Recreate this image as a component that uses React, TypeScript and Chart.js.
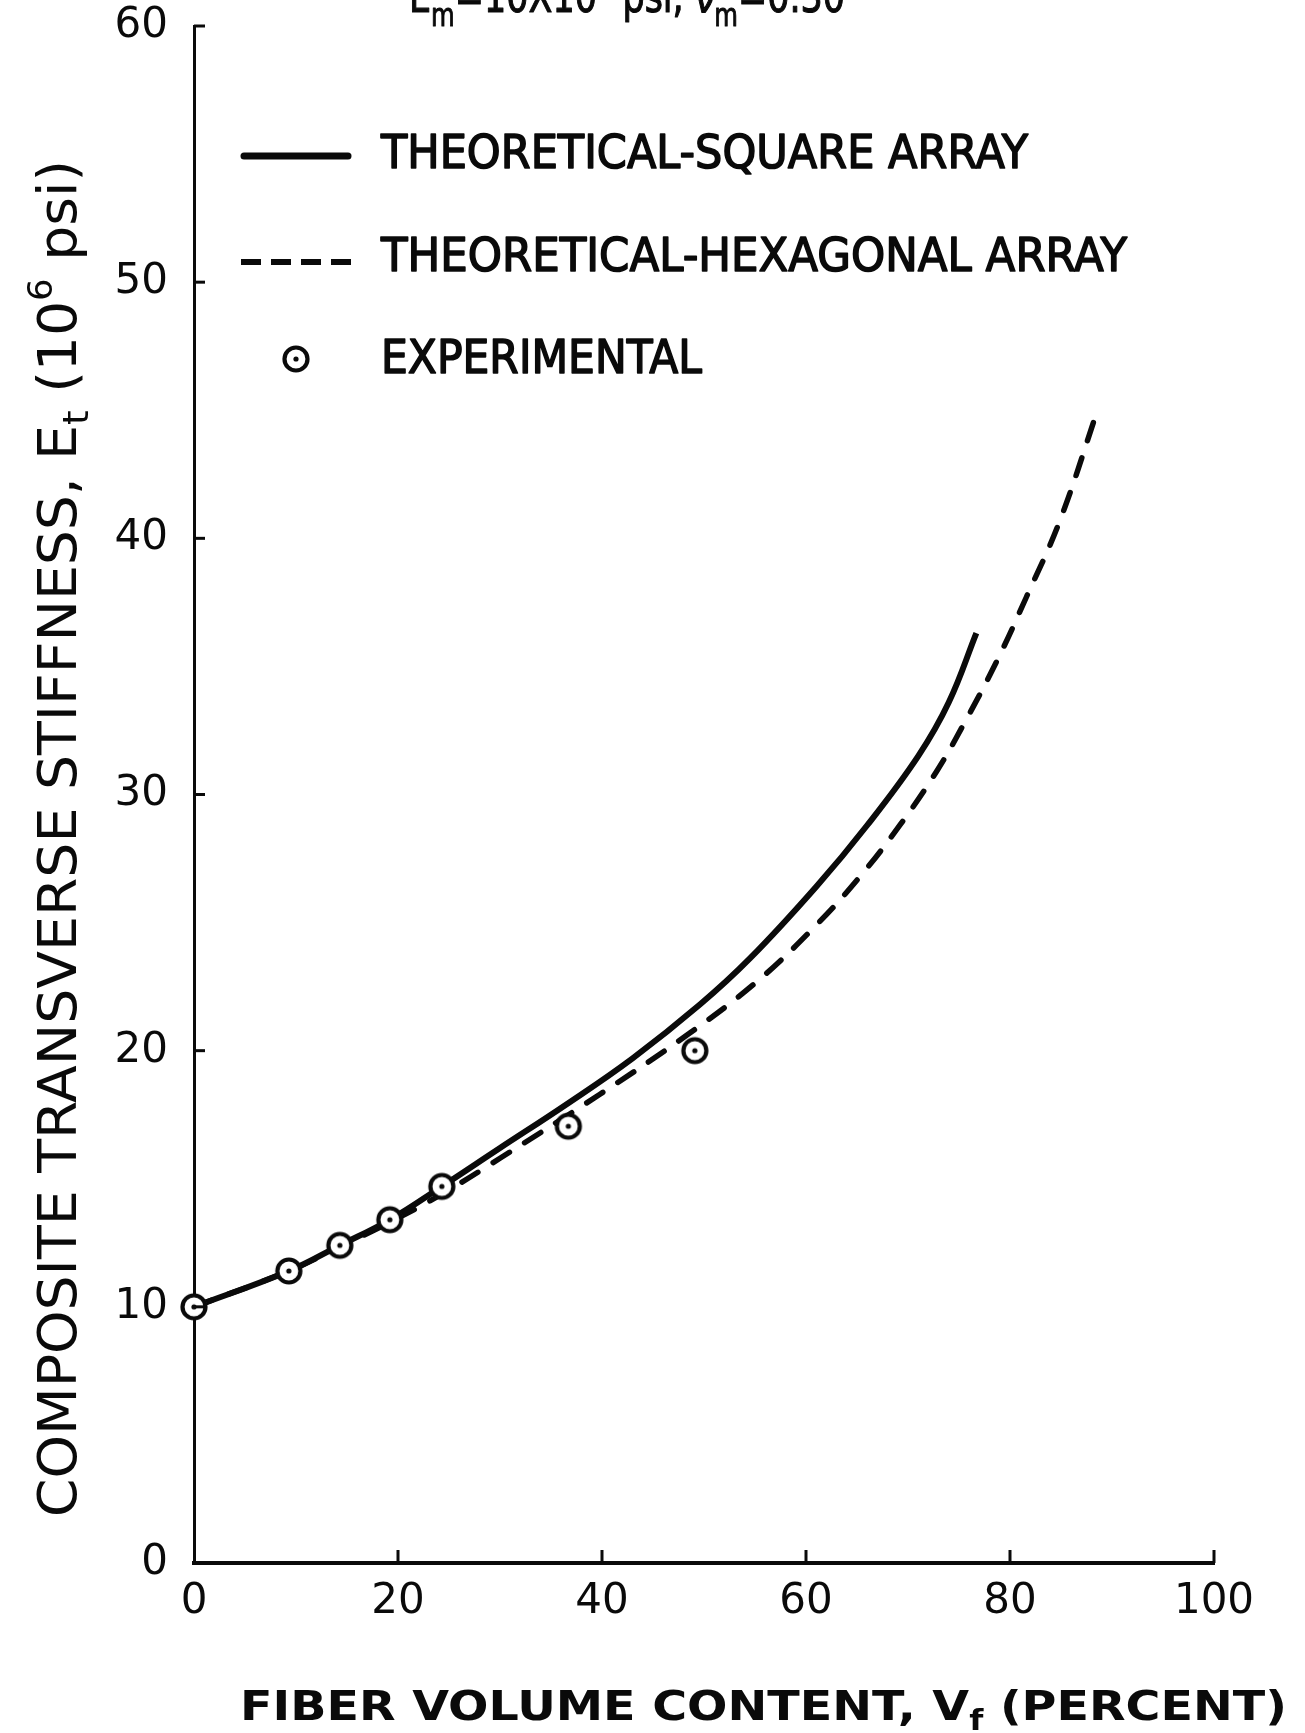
import React, { useEffect, useRef } from "react";
import { Chart, registerables } from "chart.js";

Chart.register(...registerables);

// ---- Data ----
const squareVf = [0, 9.3, 14.3, 19.2, 24.3, 30, 36.5, 43, 49.6, 54.5, 61, 66, 71, 74, 76.7];
const squareE = [10.0, 11.4, 12.4, 13.4, 14.7, 16.2, 17.9, 19.7, 21.8, 23.6, 26.4, 28.8, 31.5, 33.6, 36.3];

const hexVf = [0, 9.3, 14.3, 19.2, 24.3, 30, 39.8, 48.3, 55.2, 61, 65.3, 69.2, 72.8, 75.4, 78.7, 81.6, 84.9, 88.5];
const hexE = [10.0, 11.4, 12.35, 13.3, 14.4, 15.8, 18.3, 20.6, 22.7, 24.9, 26.8, 28.8, 30.9, 32.7, 35.2, 37.7, 40.7, 44.9];

const expVf = [0, 9.3, 14.3, 19.2, 24.3, 36.7, 49.1];
const expE = [10.0, 11.4, 12.4, 13.4, 14.7, 17.05, 20.0];

const xTickValues = [0, 20, 40, 60, 80, 100];
const yTickValues = [0, 10, 20, 30, 40, 50, 60];

const seriesNames = [
  "THEORETICAL-SQUARE ARRAY",
  "THEORETICAL-HEXAGONAL ARRAY",
  "EXPERIMENTAL",
];

const FAMILY = "'DejaVu Sans', sans-serif";
const INK = "#0a0a0a";

type Run = { t: string; size: number; dy?: number; bold?: boolean; stroke?: number };

function drawRuns(ctx: CanvasRenderingContext2D, runs: Run[], x: number, y: number, width: number) {
  ctx.save();
  ctx.textAlign = "left";
  ctx.textBaseline = "alphabetic";
  ctx.fillStyle = INK;
  ctx.strokeStyle = INK;
  ctx.lineJoin = "round";
  let total = 0;
  const widths = runs.map((r) => {
    ctx.font = `${r.bold ? "bold " : ""}${r.size}px ${FAMILY}`;
    const w = ctx.measureText(r.t).width;
    total += w;
    return w;
  });
  ctx.translate(x, y);
  ctx.scale(width / total, 1);
  let cx = 0;
  runs.forEach((r, i) => {
    ctx.font = `${r.bold ? "bold " : ""}${r.size}px ${FAMILY}`;
    ctx.fillText(r.t, cx, r.dy || 0);
    if (r.stroke) {
      ctx.lineWidth = r.stroke;
      ctx.strokeText(r.t, cx, r.dy || 0);
    }
    cx += widths[i];
  });
  ctx.restore();
}

function makeMarker(): HTMLCanvasElement {
  const c = document.createElement("canvas");
  c.width = 34;
  c.height = 34;
  const g = c.getContext("2d")!;
  g.beginPath();
  g.arc(17, 17, 13, 0, Math.PI * 2);
  g.fillStyle = "#ffffff";
  g.fill();
  g.lineWidth = 4.2;
  g.strokeStyle = INK;
  g.beginPath();
  g.arc(17, 17, 11.5, 0, Math.PI * 2);
  g.stroke();
  g.beginPath();
  g.arc(17, 17, 2.6, 0, Math.PI * 2);
  g.fillStyle = INK;
  g.fill();
  return c;
}

export default function App() {
  const canvasRef = useRef<HTMLCanvasElement | null>(null);

  useEffect(() => {
    const canvas = canvasRef.current;
    if (!canvas) return;
    const marker = makeMarker();

    const decorPlugin = {
      id: "decor",
      afterDraw(chart: any) {
        const ctx: CanvasRenderingContext2D = chart.ctx;
        const area = chart.chartArea;
        const xs = chart.scales.x;
        const ys = chart.scales.y;

        // inward tick marks
        ctx.save();
        ctx.strokeStyle = INK;
        ctx.lineWidth = 3;
        yTickValues.slice(1).forEach((v) => {
          const py = ys.getPixelForValue(v);
          ctx.beginPath();
          ctx.moveTo(area.left, py);
          ctx.lineTo(area.left + 11, py);
          ctx.stroke();
        });
        xTickValues.slice(1).forEach((v) => {
          const px = xs.getPixelForValue(v);
          ctx.beginPath();
          ctx.moveTo(px, area.bottom);
          ctx.lineTo(px, area.bottom - 13);
          ctx.stroke();
        });
        ctx.restore();

        // legend inside plot
        const lx0 = area.left + 47;
        const lx1 = area.left + 157;
        const tx = area.left + 187;
        ctx.save();
        ctx.strokeStyle = INK;
        ctx.lineWidth = 7;
        ctx.lineCap = "round";
        ctx.beginPath();
        ctx.moveTo(lx0 + 3, area.top + 130);
        ctx.lineTo(lx1 - 3, area.top + 130);
        ctx.stroke();
        ctx.lineCap = "butt";
        ctx.lineWidth = 6;
        ctx.setLineDash([20, 10]);
        ctx.beginPath();
        ctx.moveTo(lx0, area.top + 236);
        ctx.lineTo(lx1, area.top + 236);
        ctx.stroke();
        ctx.setLineDash([]);
        ctx.drawImage(marker, (lx0 + lx1) / 2 - 17, area.top + 333 - 17);
        ctx.restore();

        drawRuns(ctx, [{ t: seriesNames[0], size: 47, stroke: 1.6 }], tx, area.top + 142, 647);
        drawRuns(ctx, [{ t: seriesNames[1], size: 47, stroke: 1.6 }], tx, area.top + 245, 746);
        drawRuns(ctx, [{ t: seriesNames[2], size: 47, stroke: 1.6 }], tx, area.top + 347, 321);

        // top note (partly cut off by the page edge as in the reference)
        drawRuns(
          ctx,
          [
            { t: "E", size: 46, stroke: 1.2 },
            { t: "m", size: 32, dy: 14, stroke: 1 },
            { t: "=10X10", size: 46, stroke: 1.2 },
            { t: "6", size: 30, dy: -22 },
            { t: " psi, ", size: 46, stroke: 1.2 },
            { t: "\u03BD", size: 46, stroke: 1.2 },
            { t: "m", size: 32, dy: 14, stroke: 1 },
            { t: "=0.30", size: 46, stroke: 1.2 },
          ],
          409,
          12,
          436
        );

        // x-axis title
        drawRuns(
          ctx,
          [
            { t: "FIBER VOLUME CONTENT, V", size: 41, bold: true },
            { t: "f", size: 28, dy: 10, bold: true },
            { t: " (PERCENT)", size: 41, bold: true },
          ],
          240,
          1720,
          1047
        );

        // y-axis title (rotated)
        ctx.save();
        ctx.translate(76, 1517);
        ctx.rotate(-Math.PI / 2);
        drawRuns(
          ctx,
          [
            { t: "COMPOSITE TRANSVERSE STIFFNESS, E", size: 53 },
            { t: "t", size: 36, dy: 12 },
            { t: " (10", size: 53 },
            { t: "6", size: 34, dy: -24 },
            { t: " psi)", size: 53 },
          ],
          0,
          0,
          1357
        );
        ctx.restore();
      },
    };

    const chart = new Chart(canvas, {
      type: "scatter",
      data: {
        datasets: [
          {
            label: seriesNames[2],
            data: expVf.map((v, i) => ({ x: v, y: expE[i] })),
            pointStyle: marker as any,
            pointRadius: 13,
            showLine: false,
            order: 0,
            clip: false as any,
          },
          {
            label: seriesNames[0],
            data: squareVf.map((v, i) => ({ x: v, y: squareE[i] })),
            showLine: true,
            borderColor: INK,
            borderWidth: 6,
            pointRadius: 0,
            tension: 0.4,
            order: 1,
            clip: false as any,
          },
          {
            label: seriesNames[1],
            data: hexVf.map((v, i) => ({ x: v, y: hexE[i] })),
            showLine: true,
            borderColor: INK,
            borderWidth: 5.5,
            borderDash: [19, 18],
            borderCapStyle: "round",
            pointRadius: 0,
            tension: 0.4,
            order: 2,
            clip: false as any,
          },
        ],
      },
      options: {
        responsive: false,
        animation: false,
        events: [],
        layout: { padding: { left: 0, top: 26, right: 91, bottom: 0 } },
        plugins: {
          legend: { display: false },
          tooltip: { enabled: false },
          title: { display: false },
        },
        scales: {
          x: {
            type: "linear",
            min: 0,
            max: 100,
            afterBuildTicks: (s: any) => {
              s.ticks = xTickValues.map((v) => ({ value: v }));
            },
            grid: { display: false, drawTicks: false },
            border: { display: true, width: 4, color: INK },
            ticks: {
              color: INK,
              font: { family: FAMILY, size: 42 },
              padding: 14,
              maxRotation: 0,
              autoSkip: false,
            },
            afterFit: (s: any) => {
              s.height = 170;
              s.paddingLeft = 0;
              s.paddingRight = 0;
            },
          },
          y: {
            type: "linear",
            min: 0,
            max: 60,
            afterBuildTicks: (s: any) => {
              s.ticks = yTickValues.map((v) => ({ value: v }));
            },
            grid: { display: false, drawTicks: false },
            border: { display: true, width: 3, color: INK },
            ticks: {
              color: INK,
              font: { family: FAMILY, size: 42 },
              padding: 26,
              autoSkip: false,
            },
            afterFit: (s: any) => {
              s.width = 194;
              s.paddingTop = 0;
              s.paddingBottom = 0;
            },
          },
        },
      },
      plugins: [decorPlugin],
    } as any);

    return () => {
      chart.destroy();
    };
  }, []);

  return (
    <div style={{ position: "absolute", left: 0, top: 0, width: 1305, height: 1733, background: "#ffffff" }}>
      <canvas ref={canvasRef} width={1305} height={1733} style={{ display: "block" }} />
    </div>
  );
}
